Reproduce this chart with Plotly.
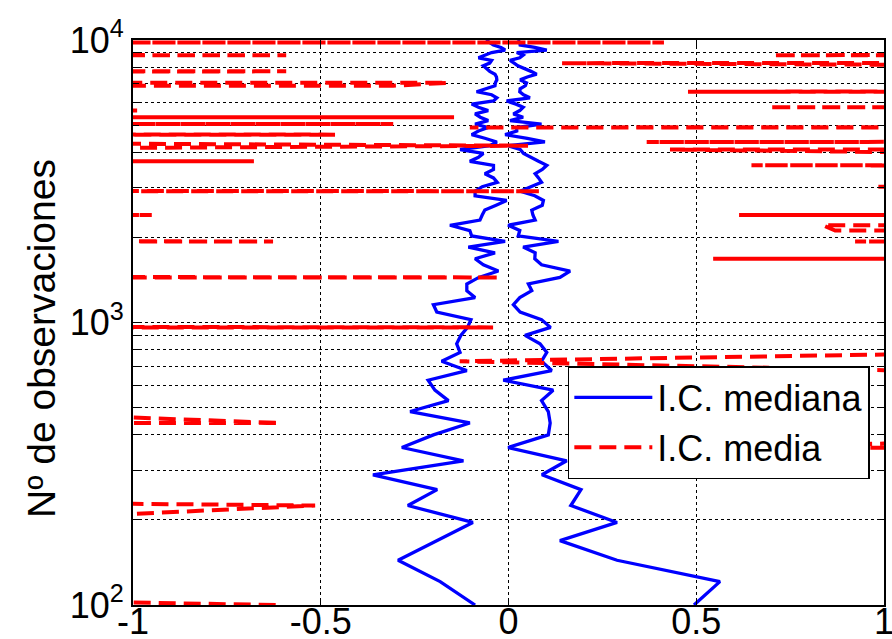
import plotly.graph_objects as go

# Number of observations (y axis)
N = [100, 121, 144, 169, 196, 225, 256, 289, 324, 361,
     400, 441, 484, 529, 576, 625, 676, 729, 784, 841,
     900, 961, 1024, 1089, 1156, 1225, 1296, 1369, 1444, 1521,
     1600, 1681, 1764, 1849, 1936, 2025, 2116, 2209, 2304, 2401,
     2500, 2601, 2704, 2809, 2916, 3025, 3136, 3249, 3364, 3481,
     3600, 3721, 3844, 3969, 4096, 4225, 4356, 4489, 4624, 4761,
     4900, 5041, 5184, 5329, 5476, 5625, 5776, 5929, 6084, 6241,
     6400, 6561, 6724, 6889, 7056, 7225, 7396, 7569, 7744, 7921,
     8100, 8281, 8464, 8649, 8836, 9025, 9216, 9409, 9604, 9801,
     10000]

# Median confidence interval bounds
lo_med = [-0.089, -0.182, -0.294, -0.19, -0.095, -0.268, -0.19, -0.361, -0.120, -0.284,
          -0.20, -0.103, -0.262, -0.160, -0.196, -0.214, -0.111, -0.178, -0.129, -0.138,
          -0.127, -0.109, -0.10, -0.191, -0.200, -0.089, -0.111, -0.111, -0.079, -0.027,
          -0.067, -0.089, -0.036, -0.107, -0.009, -0.098, -0.103, -0.156, -0.076, -0.07,
          -0.063, -0.033, -0.005, -0.089, -0.089, -0.07, -0.03, -0.04, -0.063, -0.04,
          -0.04, -0.103, -0.08, -0.067, -0.129, -0.05, -0.031, -0.063, -0.098, -0.08,
          -0.054, -0.089, -0.054, -0.075, -0.089, -0.054, -0.08, -0.098, -0.04, -0.031,
          -0.045, -0.085, -0.06, -0.036, -0.035, -0.031, -0.032, -0.036, -0.05, -0.06,
          -0.067, -0.05, -0.045, -0.08, -0.06, -0.045, -0.009, -0.02, -0.04, -0.05,
          -0.06]
hi_med = [0.494, 0.563, 0.289, 0.137, 0.289, 0.166, 0.193, 0.089, 0.155, -0.001,
          0.106, 0.111, 0.106, 0.088, 0.119, -0.014, 0.115, 0.088, 0.102, 0.084,
          0.044, 0.112, 0.088, 0.031, 0.013, 0.03, 0.062, 0.053, 0.137, 0.164,
          0.088, 0.07, 0.071, 0.039, 0.133, 0.026, 0.03, -0.001, 0.071, 0.065,
          0.062, 0.09, 0.093, 0.07, 0.031, 0.06, 0.088, 0.08, 0.071, 0.09,
          0.102, 0.08, 0.06, 0.04, 0.031, -0.001, 0.097, 0.05, -0.009, 0.022,
          0.022, 0.088, 0.004, 0.039, 0.013, 0.03, 0.039, 0.02, -0.005, 0.057,
          0.04, 0.03, 0.031, 0.045, 0.048, 0.031, 0.05, 0.075, 0.06, 0.04,
          0.025, 0.015, 0.004, 0.03, 0.039, 0.022, 0.102, 0.07, 0.031, 0.03,
          0.025]

# Mean confidence interval bounds (mostly far off-scale)
lo_mean = [-0.62, -4.2, -38, -45, -1.5, -0.515, -5.0, -52, -41, -36,
           -30, -0.609, -1.44, -47, -39, -55, -33, -44, -50, -37,
           -42, -0.041, -46, -38, -53, -40, -35, -48, -0.023, -43,
           -36, -51, -39, -45, -0.627, -42, -37, -49, -34, -0.95,
           -46, -40, -55, -38, 0.084, -44, -36, -50, -41, -47,
           -39, -0.678, -43, -52, -1.86, 0.052, -2.0, -45, -0.462, -38,
           -49, -0.307, -41, -0.145, -47, -0.985, -36, -44, -53, -39,
           -42, -48, -37, -0.307, -0.161, -45, -40, -51, -0.592, -43,
           -38, -46, -41, -49, -0.592, -44, -37, -52, -42, 0.414,
           -47]
hi_mean = [42, 38, 47, 35, 51, 44, 39, 48, 40, 0.5,
           2.1, 46, 37, 53, 41, 45, 1.05, -0.13, 1.36, 43,
           38, 50, 36, 47, 42, 55, 39, 44, 49, 37,
           41, 0.545, 46, 38, 0.923, 52, 0.87, 0.837, 43, 0.614,
           40, 48, 36, 45, 39, 0.985, 47, 42, 50, 37,
           0.647, 44, 41, 1.3, 0.43, 46, 0.368, 39, 53, 42,
           -0.103, 38, 47, 43, 36, 49, 0.693, 41, 45, 52,
           40, 0.478, 37, 46, 42, 48, 39, 44, 51, 43,
           1.6, 0.142, 2.6, 38, 0.704, 45, 40, 47, 36, 42,
           49]

x_ticks = [-1, -0.5, 0, 0.5, 1]
x_labels = ["-1", "-0.5", "0", "0.5", "1"]
y_ticks = [100, 200, 300, 400, 500, 600, 700, 800, 900,
           1000, 2000, 3000, 4000, 5000, 6000, 7000, 8000, 9000, 10000]
y_labels = ["10<sup>2</sup>", "", "", "", "", "", "", "", "",
            "10<sup>3</sup>", "", "", "", "", "", "", "", "", "10<sup>4</sup>"]

FONT = "Liberation Sans, Arial, Helvetica, sans-serif"
BLUE = "#0000ff"
RED = "#ff0000"

fig = go.Figure()
fig.add_trace(go.Scatter(x=lo_med, y=N, mode="lines", name="I.C. mediana",
                         legendgroup="med",
                         line=dict(color=BLUE, width=3.3)))
fig.add_trace(go.Scatter(x=hi_med, y=N, mode="lines", name="I.C. mediana",
                         legendgroup="med", showlegend=False,
                         line=dict(color=BLUE, width=3.3)))
fig.add_trace(go.Scatter(x=lo_mean, y=N, mode="lines", name="I.C. media",
                         legendgroup="mean",
                         line=dict(color=RED, width=4, dash="17px,8px")))
fig.add_trace(go.Scatter(x=hi_mean, y=N, mode="lines", name="I.C. media",
                         legendgroup="mean", showlegend=False,
                         line=dict(color=RED, width=4, dash="17px,8px")))

axis_common = dict(
    showgrid=True, gridcolor="black", gridwidth=1, griddash="dot",
    zeroline=False, showline=True, linecolor="black", linewidth=2,
    mirror="ticks", ticks="inside", tickcolor="black", tickwidth=1,
    ticklen=6, automargin=False, ticklabeloverflow="allow",
    tickfont=dict(family=FONT, size=36, color="black"),
)

fig.update_xaxes(range=[-1, 1], tickmode="array", tickvals=x_ticks,
                 ticktext=x_labels, ticklabelstandoff=-16, **axis_common)
fig.update_yaxes(type="log", range=[2, 4], tickmode="array",
                 tickvals=y_ticks, ticktext=y_labels, **axis_common)

fig.update_layout(
    width=892, height=639,
    margin=dict(l=133, r=8, t=40, b=34),
    paper_bgcolor="white", plot_bgcolor="white",
    font=dict(family=FONT, size=36, color="black"),
    showlegend=True,
    legend=dict(x=0.579, y=0.423, xanchor="left", yanchor="top",
                bgcolor="white", bordercolor="black", borderwidth=1.5,
                font=dict(family=FONT, size=36, color="black"),
                itemwidth=78, tracegroupgap=0),
    annotations=[dict(text="Nº de observaciones", textangle=-90,
                      xref="paper", yref="paper",
                      x=-0.121, y=0.471, xanchor="center", yanchor="middle",
                      showarrow=False,
                      font=dict(family=FONT, size=39, color="black"))],
)

fig.write_html("out.html")
